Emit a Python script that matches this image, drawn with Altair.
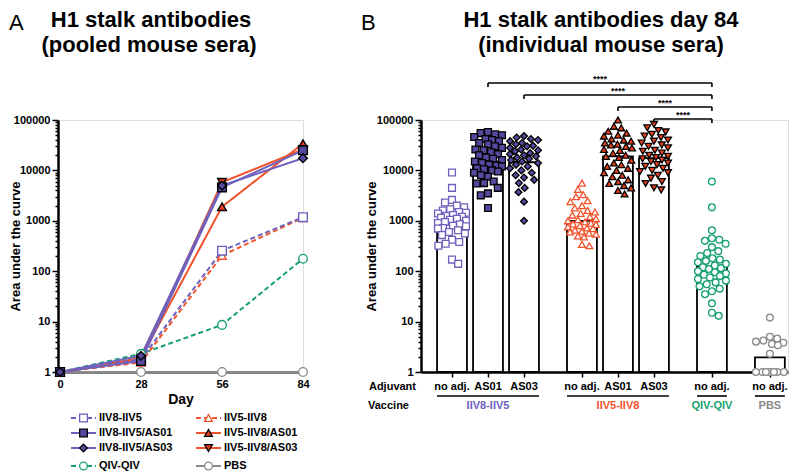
import altair as alt
import numpy as np
import pandas as pd

FONT = "Liberation Sans"
PURPLE = "#6E60BD"
PURPLE_FILL = "#56479F"
RED = "#F1532B"
RED_FILL = "#E9401F"
GREEN = "#17A070"
GRAY = "#8A8A8A"
GRAY_TXT = "#707070"

# ---------------- data ----------------
series_names = ["IIV8-IIV5", "IIV8-IIV5/AS01", "IIV8-IIV5/AS03",
                "IIV5-IIV8", "IIV5-IIV8/AS01", "IIV5-IIV8/AS03",
                "QIV-QIV", "PBS"]
days = [0, 28, 56, 84]
# Panel A: pooled sera, area under the curve by day
pool_iiv8_iiv5 = [1.0, 1.8, 255, 1180]
pool_iiv8_iiv5_as01 = [1.0, 1.65, 4600, 25000]
pool_iiv8_iiv5_as03 = [1.0, 2.1, 5000, 17500]
pool_iiv5_iiv8 = [1.0, 1.55, 205, 1150]
pool_iiv5_iiv8_as01 = [1.0, 1.9, 1900, 34000]
pool_iiv5_iiv8_as03 = [1.0, 1.75, 5800, 26000]
pool_qiv = [1.0, 2.3, 8.6, 177]
pool_pbs = [1.0, 1.0, 1.0, 1.0]
pooled = [pool_iiv8_iiv5, pool_iiv8_iiv5_as01, pool_iiv8_iiv5_as03,
          pool_iiv5_iiv8, pool_iiv5_iiv8_as01, pool_iiv5_iiv8_as03,
          pool_qiv, pool_pbs]

# Panel B: individual mouse sera at day 84
adjuvants = ["no adj.", "AS01", "AS03", "no adj.", "AS01", "AS03", "no adj.", "no adj."]
vaccines = ["IIV8-IIV5", "IIV5-IIV8", "QIV-QIV", "PBS"]
vaccine_sizes = [3, 3, 1, 1]
bar_heights = [950, 15000, 14500, 1000, 19000, 17500, 125, 1.95]
ind_iiv8_iiv5 = [9100, 4500, 2600, 2300, 2000, 1850, 1700, 1600, 1500, 1450, 1400, 1300,
                 1250, 1200, 1150, 1100, 1050, 1000, 950, 900, 850, 800, 780, 720, 700,
                 650, 600, 560, 520, 420, 380, 350, 320, 170, 140]
ind_iiv8_iiv5_as01 = [58000, 55000, 52000, 50000, 46000, 42000, 40000, 38000, 35000, 33000,
                      30000, 28000, 26000, 25000, 23000, 21000, 20000, 18000, 17000, 16000,
                      15000, 14000, 13000, 12500, 12000, 11000, 10500, 10000, 9500, 9000,
                      8000, 7500, 6000, 5600, 5500, 4500, 3500, 3200, 1800]
ind_iiv8_iiv5_as03 = [48000, 45000, 42000, 40000, 38000, 35000, 33000, 31000, 30000, 28000,
                      26000, 25000, 24000, 22000, 21000, 20000, 19000, 18000, 17000, 16000,
                      15000, 14000, 13000, 12000, 11000, 10000, 9000, 8000, 7200, 6500,
                      5600, 4500, 3700, 2400, 1000]
ind_iiv5_iiv8 = [5600, 4200, 3300, 3000, 2500, 2400, 2000, 1800, 1600, 1500, 1400, 1300,
                 1200, 1100, 1050, 1000, 950, 900, 870, 850, 800, 760, 720, 700, 650, 620,
                 600, 570, 540, 500, 480, 340, 320]
ind_iiv5_iiv8_as01 = [100000, 75000, 70000, 60000, 55000, 50000, 48000, 42000, 40000, 38000,
                      35000, 33000, 32000, 30000, 28000, 26000, 25000, 22000, 20000, 19000,
                      18000, 16000, 14000, 13000, 12000, 11000, 10000, 9000, 8000, 7500,
                      6500, 6000, 5500, 5000, 4500, 4000, 3400]
ind_iiv5_iiv8_as03 = [82000, 70000, 62000, 58000, 52000, 48000, 45000, 40000, 38000, 35000,
                      32000, 30000, 28000, 25000, 24000, 22000, 20000, 19000, 18000, 17000,
                      16000, 15000, 14000, 13000, 12000, 11000, 10000, 9500, 9000, 8000,
                      7000, 6000, 5500, 4500, 4100]
ind_qiv = [6000, 1850, 650, 450, 420, 400, 350, 300, 250, 230, 200, 180, 170, 160, 150, 140,
           130, 120, 115, 110, 100, 95, 90, 85, 80, 75, 70, 65, 60, 55, 50, 45, 40, 35, 23,
           15, 13]
ind_pbs = [12, 5, 4.6, 4.2, 4, 3.8, 3.6, 3.4, 2.3, 1, 1, 1, 1, 1, 1, 1]
individual = [ind_iiv8_iiv5, ind_iiv8_iiv5_as01, ind_iiv8_iiv5_as03,
              ind_iiv5_iiv8, ind_iiv5_iiv8_as01, ind_iiv5_iiv8_as03, ind_qiv, ind_pbs]
comparisons = [(1, 6), (2, 6), (4, 6), (5, 6)]
comparison_labels = ["****", "****", "****", "****"]

# ---------------- styles ----------------
series_color = [PURPLE] * 3 + [RED] * 3 + [GREEN, GRAY]
series_dash = [[5, 3], [1, 0], [1, 0], [5, 3], [1, 0], [1, 0], [5, 3], [1, 0]]
series_shape = ["square", "square", "diamond", "triangle-up", "triangle-up",
                "triangle-down", "circle", "circle"]
series_fill = ["white", PURPLE_FILL, PURPLE_FILL, "white", RED_FILL, RED_FILL, "white", "white"]
series_stroke = [PURPLE, "black", "black", RED, "black", "black", GREEN, GRAY]

H = 252
WA = 245
WB = 367
PXDEC = H / 5.0
BAR_HALF = 0.415
GROUP_GAP = 1.61
TOP1 = -93
TOP2 = -68

color_scale = alt.Scale(domain=series_names, range=series_color)
dash_scale = alt.Scale(domain=series_names, range=series_dash)
shape_scale = alt.Scale(domain=series_names, range=series_shape)
fill_scale = alt.Scale(domain=series_names, range=series_fill)
stroke_scale = alt.Scale(domain=series_names, range=series_stroke)

MAJOR = [1, 10, 100, 1000, 10000, 100000]
MINOR = [k * 10 ** e for e in range(5) for k in range(2, 10)]
IS_MAJOR = "indexof([1,10,100,1000,10000,100000], datum.value) >= 0"
y_scale = alt.Scale(type="log", domain=[1, 100000], nice=False)


def y_axis(title_x):
    return alt.Axis(title="Area under the curve", values=sorted(MAJOR + MINOR), format="d",
                    labelExpr=f"{IS_MAJOR} ? datum.label : ''",
                    tickSize={"condition": {"test": IS_MAJOR, "value": 6}, "value": 3},
                    labelOverlap=False, labelFlush=False, grid=False,
                    domainColor="black", domainWidth=2.5, tickColor="black", tickWidth=1.5,
                    labelFont=FONT, labelFontSize=11, labelFontWeight="bold",
                    labelColor="black", labelPadding=2,
                    titleFont=FONT, titleFontSize=13, titleFontWeight="bold",
                    titleColor="black", titleAngle=270, titleX=title_x, titleY=H / 2,
                    titleBaseline="bottom", titleAlign="center")


def beeswarm(vals, d=7.5, cap=14.0):
    ys = [np.log10(v) * PXDEC for v in vals]
    order = sorted(range(len(vals)), key=lambda i: -ys[i])
    placed, xs = [], [0.0] * len(vals)
    for n, i in enumerate(order):
        y = ys[i]
        near = [(px, py) for px, py in placed if abs(py - y) < d]
        cands = [0.0]
        for px, py in near:
            w = np.sqrt(d * d - (py - y) ** 2)
            cands += [px - w, px + w]

        def ok(x):
            return all((x - px) ** 2 + (y - py) ** 2 >= d * d - 1e-6 for px, py in near)

        feas = [c for c in cands if ok(c) and abs(c) <= cap]
        sgn = 1 if n % 2 else -1
        if feas:
            x = min(feas, key=lambda c: (round(abs(c), 3), sgn * c))
        else:
            grid = np.linspace(-cap, cap, 29)
            x = max(grid, key=lambda c: min((c - px) ** 2 + (y - py) ** 2 for px, py in near))
        xs[i] = float(x)
        placed.append((x, y))
    return xs


def static_text(txt, x, y, size=22, weight="bold", align="center"):
    return alt.Chart(pd.DataFrame({"k": [0]})).mark_text(
        text=txt, align=align, baseline="alphabetic", font=FONT, fontSize=size,
        fontWeight=weight, color="black").encode(x=alt.value(x), y=alt.value(y))


# ---------------- panel A ----------------
draw_order = [7, 6, 3, 4, 5, 0, 1, 2]
dfA = pd.DataFrame([{"day": dd, "auc": v, "series": series_names[k]}
                    for k in draw_order for dd, v in zip(days, pooled[k])])

xA = alt.X("day:Q", scale=alt.Scale(domain=[-0.7, 84], nice=False, zero=False),
           axis=alt.Axis(values=days, title="Day", format="d", grid=False,
                         domainColor="black", domainWidth=2, tickSize=0,
                         labelFont=FONT, labelFontSize=11, labelFontWeight="bold",
                         labelColor="black", labelPadding=6, labelFlush=False,
                         titleFont=FONT, titleFontSize=14, titleFontWeight="bold",
                         titleColor="black", titlePadding=3))
yA = alt.Y("auc:Q", scale=y_scale, axis=y_axis(-36))

linesA = alt.Chart(dfA).mark_line(strokeWidth=2).encode(
    x=xA, y=yA,
    color=alt.Color("series:N", scale=color_scale, legend=None),
    strokeDash=alt.StrokeDash("series:N", scale=dash_scale, legend=None))
pointsA = alt.Chart(dfA).mark_point(filled=True, opacity=1, size=75, strokeWidth=1.4).encode(
    x=xA, y=yA,
    shape=alt.Shape("series:N", scale=shape_scale, legend=None),
    fill=alt.Fill("series:N", scale=fill_scale, legend=None),
    stroke=alt.Stroke("series:N", scale=stroke_scale, legend=None))

legend_cols = [[0, 1, 2, 6], [3, 4, 5, 7]]
leg_rows = []
for c, col in enumerate(legend_cols):
    for r, k in enumerate(col):
        x0 = 13 + 125 * c
        leg_rows.append({"series": series_names[k], "lx0": x0, "lx1": x0 + 25,
                         "lxs": x0 + 12.5, "ltx": x0 + 28,
                         "ly": H + 46 + 15 * r + (3 if r == 3 else 0)})
dfL = pd.DataFrame(leg_rows)
legRule = alt.Chart(dfL).mark_rule(strokeWidth=2).encode(
    x=alt.X("lx0:Q", scale=None), x2="lx1:Q", y=alt.Y("ly:Q", scale=None),
    color=alt.Color("series:N", scale=color_scale, legend=None),
    strokeDash=alt.StrokeDash("series:N", scale=dash_scale, legend=None))
legPoint = alt.Chart(dfL).mark_point(filled=True, opacity=1, size=60, strokeWidth=1.3).encode(
    x=alt.X("lxs:Q", scale=None), y=alt.Y("ly:Q", scale=None),
    shape=alt.Shape("series:N", scale=shape_scale, legend=None),
    fill=alt.Fill("series:N", scale=fill_scale, legend=None),
    stroke=alt.Stroke("series:N", scale=stroke_scale, legend=None))
legText = alt.Chart(dfL).mark_text(align="left", baseline="middle", font=FONT, fontSize=11,
                                   fontWeight="bold", color="black").encode(
    x=alt.X("ltx:Q", scale=None), y=alt.Y("ly:Q", scale=None), text="series:N")

labelA = static_text("A", -49, TOP1 + 3, weight="normal", align="left")
titleA1 = static_text("H1 stalk antibodies", 93, TOP1)
titleA2 = static_text("(pooled mouse sera)", 91, TOP2)

panelA = alt.layer(linesA, pointsA, legRule, legPoint, legText, labelA, titleA1, titleA2
                   ).properties(width=WA, height=H)

# ---------------- panel B ----------------
positions = []
p = 0.0
for g, size in enumerate(vaccine_sizes):
    for j in range(size):
        positions.append(p)
        p += 1
    p += GROUP_GAP - 1

xB_scale = alt.Scale(domain=[-0.861, 9.333], nice=False, zero=False)
xB_axis = alt.Axis(values=positions, labels=False, title=None, grid=False,
                   domainColor="black", domainWidth=2.5, tickColor="black",
                   tickWidth=1.5, tickSize=5)

dfBar = pd.DataFrame({"series": series_names, "pos": positions, "adj": adjuvants,
                      "x0": [q - BAR_HALF for q in positions],
                      "x1": [q + BAR_HALF for q in positions],
                      "gm": bar_heights, "base": [1.0] * len(positions)})
pt_rows = []
for k, vals in enumerate(individual):
    offs = beeswarm(vals)
    for v, o in zip(vals, offs):
        pt_rows.append({"series": series_names[k], "auc": v, "xp": positions[k] + o / 36.0})
dfP = pd.DataFrame(pt_rows)

yB = alt.Y("gm:Q", scale=y_scale, axis=y_axis(-43))
bars = alt.Chart(dfBar).mark_bar(fill="white", stroke="black", strokeWidth=1.8).encode(
    x=alt.X("x0:Q", scale=xB_scale, axis=xB_axis), x2="x1:Q",
    y=yB, y2="base:Q")
pointsB = alt.Chart(dfP).mark_point(filled=True, opacity=1, size=46, strokeWidth=1.3).encode(
    x=alt.X("xp:Q", scale=xB_scale, axis=xB_axis),
    y=alt.Y("auc:Q", scale=y_scale, axis=y_axis(-43)),
    shape=alt.Shape("series:N", scale=shape_scale, legend=None),
    fill=alt.Fill("series:N", scale=fill_scale, legend=None),
    stroke=alt.Stroke("series:N", scale=stroke_scale, legend=None))

adjText = alt.Chart(dfBar).mark_text(font=FONT, fontSize=11, fontWeight="bold",
                                     color="black", baseline="middle").encode(
    x=alt.X("pos:Q", scale=xB_scale, axis=xB_axis), y=alt.value(H + 15), text="adj:N")

vac_rows = []
start = 0
for name, size in zip(vaccines, vaccine_sizes):
    ps = positions[start:start + size]
    vac_rows.append({"vaccine": name, "v0": ps[0] - BAR_HALF, "v1": ps[-1] + BAR_HALF,
                     "vc": (ps[0] + ps[-1]) / 2})
    start += size
dfV = pd.DataFrame(vac_rows)
vacRule = alt.Chart(dfV).mark_rule(strokeWidth=1.6, color="black").encode(
    x=alt.X("v0:Q", scale=xB_scale, axis=xB_axis), x2="v1:Q", y=alt.value(H + 24))
vacText = alt.Chart(dfV).mark_text(font=FONT, fontSize=11, fontWeight="bold",
                                   baseline="middle").encode(
    x=alt.X("vc:Q", scale=xB_scale, axis=xB_axis), y=alt.value(H + 34), text="vaccine:N",
    color=alt.Color("vaccine:N", scale=alt.Scale(domain=vaccines,
                                                 range=[PURPLE, RED, GREEN, GRAY_TXT]),
                    legend=None))
adjLabel = alt.Chart(pd.DataFrame({"k": [0]})).mark_text(
    text="Adjuvant", align="right", baseline="middle", font=FONT, fontSize=11,
    fontWeight="bold", color="black").encode(x=alt.value(-5), y=alt.value(H + 15))
vacLabel = alt.Chart(pd.DataFrame({"k": [0]})).mark_text(
    text="Vaccine", align="right", baseline="middle", font=FONT, fontSize=11,
    fontWeight="bold", color="black").encode(x=alt.value(-12), y=alt.value(H + 34))

br_rows, end_rows = [], []
for i, ((a, b), lab) in enumerate(zip(comparisons, comparison_labels)):
    by = -37 + 12 * i
    br_rows.append({"xa": positions[a], "xb": positions[b],
                    "xm": (positions[a] + positions[b]) / 2, "by": by, "sy": by - 1, "lab": lab})
    for xx in (positions[a], positions[b]):
        end_rows.append({"xe": xx, "by": by, "by2": by + 4})
dfBr = pd.DataFrame(br_rows)
dfEnd = pd.DataFrame(end_rows)
brRule = alt.Chart(dfBr).mark_rule(strokeWidth=1.6, color="black").encode(
    x=alt.X("xa:Q", scale=xB_scale, axis=xB_axis), x2="xb:Q", y=alt.Y("by:Q", scale=None))
brEnd = alt.Chart(dfEnd).mark_rule(strokeWidth=1.6, color="black").encode(
    x=alt.X("xe:Q", scale=xB_scale, axis=xB_axis), y=alt.Y("by:Q", scale=None), y2="by2:Q")
brText = alt.Chart(dfBr).mark_text(font=FONT, fontSize=9, fontWeight="bold", color="black",
                                   baseline="alphabetic").encode(
    x=alt.X("xm:Q", scale=xB_scale, axis=xB_axis), y=alt.Y("sy:Q", scale=None), text="lab:N")

labelB = static_text("B", -60, TOP1 + 3, weight="normal", align="left")
titleB1 = static_text("H1 stalk antibodies day 84", 180, TOP1)
titleB2 = static_text("(individual mouse sera)", 180, TOP2)

panelB = alt.layer(bars, pointsB, adjText, vacRule, vacText, adjLabel, vacLabel,
                   brRule, brEnd, brText, labelB, titleB1, titleB2
                   ).properties(width=WB, height=H)

chart = alt.hconcat(panelA, panelB, spacing=118, bounds="flush").properties(
    padding=0).configure_view(stroke=None).configure(font=FONT)

chart.save("out.html", embed_options={"renderer": "svg", "actions": False})
